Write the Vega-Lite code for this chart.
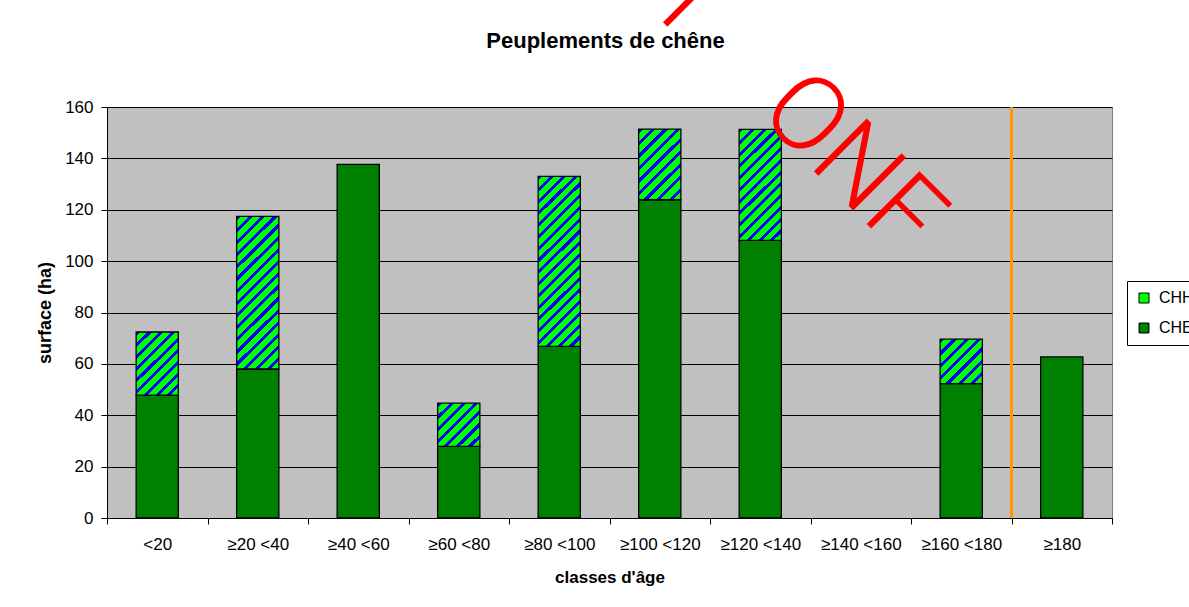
{
  "$schema": "https://vega.github.io/schema/vega-lite/v6.json",
  "width": 1005,
  "height": 411,
  "autosize": {"type": "none"},
  "padding": {"left": 107, "top": 107, "right": 77, "bottom": 89},
  "background": "white",
  "title": {"text": "Peuplements de chêne", "font": "Liberation Sans", "fontSize": 22, "fontWeight": "bold", "color": "black", "anchor": "middle", "frame": "group", "baseline": "alphabetic", "offset": -481, "dx": -4},
  "config": {
    "font": "Liberation Sans",
    "view": {"fill": "#C0C0C0", "stroke": "#808080", "strokeWidth": 1},
    "axis": {"domainColor": "black", "tickColor": "black", "labelColor": "black", "titleColor": "black", "labelFont": "Liberation Sans", "titleFont": "Liberation Sans", "domainWidth": 1, "tickWidth": 1}
  },
  "layer": [
    {
      "data": {"values": [
        {"classe": "<20", "type": "CHE", "surface": 47.8},
        {"classe": "<20", "type": "CHH", "surface": 24.6},
        {"classe": "≥20 <40", "type": "CHE", "surface": 58.0},
        {"classe": "≥20 <40", "type": "CHH", "surface": 59.4},
        {"classe": "≥40 <60", "type": "CHE", "surface": 137.7},
        {"classe": "≥60 <80", "type": "CHE", "surface": 27.9},
        {"classe": "≥60 <80", "type": "CHH", "surface": 16.8},
        {"classe": "≥80 <100", "type": "CHE", "surface": 66.8},
        {"classe": "≥80 <100", "type": "CHH", "surface": 66.2},
        {"classe": "≥100 <120", "type": "CHE", "surface": 123.9},
        {"classe": "≥100 <120", "type": "CHH", "surface": 27.5},
        {"classe": "≥120 <140", "type": "CHE", "surface": 108.1},
        {"classe": "≥120 <140", "type": "CHH", "surface": 43.2},
        {"classe": "≥160 <180", "type": "CHE", "surface": 52.3},
        {"classe": "≥160 <180", "type": "CHH", "surface": 17.3},
        {"classe": "≥180", "type": "CHE", "surface": 62.7}
      ]},
      "mark": {"type": "bar", "width": {"band": 0.42}, "stroke": "black", "strokeWidth": 1.3},
      "encoding": {
        "x": {"field": "classe", "type": "nominal", "sort": null,
          "scale": {"domain": ["<20", "≥20 <40", "≥40 <60", "≥60 <80", "≥80 <100", "≥100 <120", "≥120 <140", "≥140 <160", "≥160 <180", "≥180"], "paddingInner": 0, "paddingOuter": 0},
          "axis": {"title": "classes d'âge", "titleFontSize": 17, "titleFontWeight": "bold", "titlePadding": 17, "labelFontSize": 17, "labelAngle": 0, "labelPadding": 12, "tickSize": 6, "tickBand": "extent", "labelOverlap": false, "grid": false}},
        "y": {"field": "surface", "type": "quantitative", "stack": "zero",
          "scale": {"domain": [0, 160], "nice": false},
          "axis": {"title": "surface (ha)", "titleFontSize": 18, "titleFontWeight": "bold", "titlePadding": 10, "values": [0, 20, 40, 60, 80, 100, 120, 140, 160], "labelFontSize": 17, "labelPadding": 8, "tickSize": 6, "grid": true, "gridColor": "black", "gridWidth": 1}},
        "order": {"field": "type", "sort": "ascending"},
        "fill": {"field": "type", "type": "nominal",
          "scale": {"domain": ["CHH", "CHE"], "range": ["#00FF00", "#008000"]},
          "legend": {"title": null, "orient": "none", "legendX": 1020, "legendY": 174, "direction": "vertical", "symbolType": "square", "symbolSize": 100, "symbolStrokeColor": "black", "symbolStrokeWidth": 1, "labelFont": "Liberation Sans", "labelFontSize": 16, "labelColor": "black", "labelOffset": 7, "strokeColor": "black", "fillColor": "white", "padding": 9, "rowPadding": 14},
          "condition": [
            {"test": "datum.type === 'CHH' && datum.classe === '<20'", "value": {"gradient": "linear", "x1": 0, "y1": 0, "x2": 0.766, "y2": 1.155, "stops": [
              {"offset": 0, "color": "#00f"}, {"offset": 0.0389, "color": "#00f"}, {"offset": 0.0389, "color": "#0f0"}, {"offset": 0.1111, "color": "#0f0"},
              {"offset": 0.1111, "color": "#00f"}, {"offset": 0.15, "color": "#00f"}, {"offset": 0.15, "color": "#0f0"}, {"offset": 0.2222, "color": "#0f0"},
              {"offset": 0.2222, "color": "#00f"}, {"offset": 0.2611, "color": "#00f"}, {"offset": 0.2611, "color": "#0f0"}, {"offset": 0.3333, "color": "#0f0"},
              {"offset": 0.3333, "color": "#00f"}, {"offset": 0.3722, "color": "#00f"}, {"offset": 0.3722, "color": "#0f0"}, {"offset": 0.4444, "color": "#0f0"},
              {"offset": 0.4444, "color": "#00f"}, {"offset": 0.4833, "color": "#00f"}, {"offset": 0.4833, "color": "#0f0"}, {"offset": 0.5556, "color": "#0f0"},
              {"offset": 0.5556, "color": "#00f"}, {"offset": 0.5944, "color": "#00f"}, {"offset": 0.5944, "color": "#0f0"}, {"offset": 0.6667, "color": "#0f0"},
              {"offset": 0.6667, "color": "#00f"}, {"offset": 0.7056, "color": "#00f"}, {"offset": 0.7056, "color": "#0f0"}, {"offset": 0.7778, "color": "#0f0"},
              {"offset": 0.7778, "color": "#00f"}, {"offset": 0.8167, "color": "#00f"}, {"offset": 0.8167, "color": "#0f0"}, {"offset": 0.8889, "color": "#0f0"},
              {"offset": 0.8889, "color": "#00f"}, {"offset": 0.9278, "color": "#00f"}, {"offset": 0.9278, "color": "#0f0"}, {"offset": 1, "color": "#0f0"}]}},
            {"test": "datum.type === 'CHH' && datum.classe === '≥20 <40'", "value": {"gradient": "linear", "x1": 0, "y1": 0, "x2": 0.3254, "y2": 1.1852, "stops": [
              {"offset": 0, "color": "#00f"}, {"offset": 0.0219, "color": "#00f"}, {"offset": 0.0219, "color": "#0f0"}, {"offset": 0.0625, "color": "#0f0"},
              {"offset": 0.0625, "color": "#00f"}, {"offset": 0.0844, "color": "#00f"}, {"offset": 0.0844, "color": "#0f0"}, {"offset": 0.125, "color": "#0f0"},
              {"offset": 0.125, "color": "#00f"}, {"offset": 0.1469, "color": "#00f"}, {"offset": 0.1469, "color": "#0f0"}, {"offset": 0.1875, "color": "#0f0"},
              {"offset": 0.1875, "color": "#00f"}, {"offset": 0.2094, "color": "#00f"}, {"offset": 0.2094, "color": "#0f0"}, {"offset": 0.25, "color": "#0f0"},
              {"offset": 0.25, "color": "#00f"}, {"offset": 0.2719, "color": "#00f"}, {"offset": 0.2719, "color": "#0f0"}, {"offset": 0.3125, "color": "#0f0"},
              {"offset": 0.3125, "color": "#00f"}, {"offset": 0.3344, "color": "#00f"}, {"offset": 0.3344, "color": "#0f0"}, {"offset": 0.375, "color": "#0f0"},
              {"offset": 0.375, "color": "#00f"}, {"offset": 0.3969, "color": "#00f"}, {"offset": 0.3969, "color": "#0f0"}, {"offset": 0.4375, "color": "#0f0"},
              {"offset": 0.4375, "color": "#00f"}, {"offset": 0.4594, "color": "#00f"}, {"offset": 0.4594, "color": "#0f0"}, {"offset": 0.5, "color": "#0f0"},
              {"offset": 0.5, "color": "#00f"}, {"offset": 0.5219, "color": "#00f"}, {"offset": 0.5219, "color": "#0f0"}, {"offset": 0.5625, "color": "#0f0"},
              {"offset": 0.5625, "color": "#00f"}, {"offset": 0.5844, "color": "#00f"}, {"offset": 0.5844, "color": "#0f0"}, {"offset": 0.625, "color": "#0f0"},
              {"offset": 0.625, "color": "#00f"}, {"offset": 0.6469, "color": "#00f"}, {"offset": 0.6469, "color": "#0f0"}, {"offset": 0.6875, "color": "#0f0"},
              {"offset": 0.6875, "color": "#00f"}, {"offset": 0.7094, "color": "#00f"}, {"offset": 0.7094, "color": "#0f0"}, {"offset": 0.75, "color": "#0f0"},
              {"offset": 0.75, "color": "#00f"}, {"offset": 0.7719, "color": "#00f"}, {"offset": 0.7719, "color": "#0f0"}, {"offset": 0.8125, "color": "#0f0"},
              {"offset": 0.8125, "color": "#00f"}, {"offset": 0.8344, "color": "#00f"}, {"offset": 0.8344, "color": "#0f0"}, {"offset": 0.875, "color": "#0f0"},
              {"offset": 0.875, "color": "#00f"}, {"offset": 0.8969, "color": "#00f"}, {"offset": 0.8969, "color": "#0f0"}, {"offset": 0.9375, "color": "#0f0"},
              {"offset": 0.9375, "color": "#00f"}, {"offset": 0.9594, "color": "#00f"}, {"offset": 0.9594, "color": "#0f0"}, {"offset": 1, "color": "#0f0"}]}},
            {"test": "datum.type === 'CHH' && datum.classe === '≥60 <80'", "value": {"gradient": "linear", "x1": 0, "y1": 0, "x2": 0.9845, "y2": 1.015, "stops": [
              {"offset": 0, "color": "#00f"}, {"offset": 0.05, "color": "#00f"}, {"offset": 0.05, "color": "#0f0"}, {"offset": 0.1429, "color": "#0f0"},
              {"offset": 0.1429, "color": "#00f"}, {"offset": 0.1929, "color": "#00f"}, {"offset": 0.1929, "color": "#0f0"}, {"offset": 0.2857, "color": "#0f0"},
              {"offset": 0.2857, "color": "#00f"}, {"offset": 0.3357, "color": "#00f"}, {"offset": 0.3357, "color": "#0f0"}, {"offset": 0.4286, "color": "#0f0"},
              {"offset": 0.4286, "color": "#00f"}, {"offset": 0.4786, "color": "#00f"}, {"offset": 0.4786, "color": "#0f0"}, {"offset": 0.5714, "color": "#0f0"},
              {"offset": 0.5714, "color": "#00f"}, {"offset": 0.6214, "color": "#00f"}, {"offset": 0.6214, "color": "#0f0"}, {"offset": 0.7143, "color": "#0f0"},
              {"offset": 0.7143, "color": "#00f"}, {"offset": 0.7643, "color": "#00f"}, {"offset": 0.7643, "color": "#0f0"}, {"offset": 0.8571, "color": "#0f0"},
              {"offset": 0.8571, "color": "#00f"}, {"offset": 0.9071, "color": "#00f"}, {"offset": 0.9071, "color": "#0f0"}, {"offset": 1, "color": "#0f0"}]}},
            {"test": "datum.type === 'CHH' && datum.classe === '≥80 <100'", "value": {"gradient": "linear", "x1": 0, "y1": 0, "x2": 0.2895, "y2": 1.175, "stops": [
              {"offset": 0, "color": "#00f"}, {"offset": 0.0194, "color": "#00f"}, {"offset": 0.0194, "color": "#0f0"}, {"offset": 0.0556, "color": "#0f0"},
              {"offset": 0.0556, "color": "#00f"}, {"offset": 0.075, "color": "#00f"}, {"offset": 0.075, "color": "#0f0"}, {"offset": 0.1111, "color": "#0f0"},
              {"offset": 0.1111, "color": "#00f"}, {"offset": 0.1306, "color": "#00f"}, {"offset": 0.1306, "color": "#0f0"}, {"offset": 0.1667, "color": "#0f0"},
              {"offset": 0.1667, "color": "#00f"}, {"offset": 0.1861, "color": "#00f"}, {"offset": 0.1861, "color": "#0f0"}, {"offset": 0.2222, "color": "#0f0"},
              {"offset": 0.2222, "color": "#00f"}, {"offset": 0.2417, "color": "#00f"}, {"offset": 0.2417, "color": "#0f0"}, {"offset": 0.2778, "color": "#0f0"},
              {"offset": 0.2778, "color": "#00f"}, {"offset": 0.2972, "color": "#00f"}, {"offset": 0.2972, "color": "#0f0"}, {"offset": 0.3333, "color": "#0f0"},
              {"offset": 0.3333, "color": "#00f"}, {"offset": 0.3528, "color": "#00f"}, {"offset": 0.3528, "color": "#0f0"}, {"offset": 0.3889, "color": "#0f0"},
              {"offset": 0.3889, "color": "#00f"}, {"offset": 0.4083, "color": "#00f"}, {"offset": 0.4083, "color": "#0f0"}, {"offset": 0.4444, "color": "#0f0"},
              {"offset": 0.4444, "color": "#00f"}, {"offset": 0.4639, "color": "#00f"}, {"offset": 0.4639, "color": "#0f0"}, {"offset": 0.5, "color": "#0f0"},
              {"offset": 0.5, "color": "#00f"}, {"offset": 0.5194, "color": "#00f"}, {"offset": 0.5194, "color": "#0f0"}, {"offset": 0.5556, "color": "#0f0"},
              {"offset": 0.5556, "color": "#00f"}, {"offset": 0.575, "color": "#00f"}, {"offset": 0.575, "color": "#0f0"}, {"offset": 0.6111, "color": "#0f0"},
              {"offset": 0.6111, "color": "#00f"}, {"offset": 0.6306, "color": "#00f"}, {"offset": 0.6306, "color": "#0f0"}, {"offset": 0.6667, "color": "#0f0"},
              {"offset": 0.6667, "color": "#00f"}, {"offset": 0.6861, "color": "#00f"}, {"offset": 0.6861, "color": "#0f0"}, {"offset": 0.7222, "color": "#0f0"},
              {"offset": 0.7222, "color": "#00f"}, {"offset": 0.7417, "color": "#00f"}, {"offset": 0.7417, "color": "#0f0"}, {"offset": 0.7778, "color": "#0f0"},
              {"offset": 0.7778, "color": "#00f"}, {"offset": 0.7972, "color": "#00f"}, {"offset": 0.7972, "color": "#0f0"}, {"offset": 0.8333, "color": "#0f0"},
              {"offset": 0.8333, "color": "#00f"}, {"offset": 0.8528, "color": "#00f"}, {"offset": 0.8528, "color": "#0f0"}, {"offset": 0.8889, "color": "#0f0"},
              {"offset": 0.8889, "color": "#00f"}, {"offset": 0.9083, "color": "#00f"}, {"offset": 0.9083, "color": "#0f0"}, {"offset": 0.9444, "color": "#0f0"},
              {"offset": 0.9444, "color": "#00f"}, {"offset": 0.9639, "color": "#00f"}, {"offset": 0.9639, "color": "#0f0"}, {"offset": 1, "color": "#0f0"}]}},
            {"test": "datum.type === 'CHH' && datum.classe === '≥100 <120'", "value": {"gradient": "linear", "x1": 0, "y1": 0, "x2": 0.6991, "y2": 1.1785, "stops": [
              {"offset": 0, "color": "#00f"}, {"offset": 0.0389, "color": "#00f"}, {"offset": 0.0389, "color": "#0f0"}, {"offset": 0.1111, "color": "#0f0"},
              {"offset": 0.1111, "color": "#00f"}, {"offset": 0.15, "color": "#00f"}, {"offset": 0.15, "color": "#0f0"}, {"offset": 0.2222, "color": "#0f0"},
              {"offset": 0.2222, "color": "#00f"}, {"offset": 0.2611, "color": "#00f"}, {"offset": 0.2611, "color": "#0f0"}, {"offset": 0.3333, "color": "#0f0"},
              {"offset": 0.3333, "color": "#00f"}, {"offset": 0.3722, "color": "#00f"}, {"offset": 0.3722, "color": "#0f0"}, {"offset": 0.4444, "color": "#0f0"},
              {"offset": 0.4444, "color": "#00f"}, {"offset": 0.4833, "color": "#00f"}, {"offset": 0.4833, "color": "#0f0"}, {"offset": 0.5556, "color": "#0f0"},
              {"offset": 0.5556, "color": "#00f"}, {"offset": 0.5944, "color": "#00f"}, {"offset": 0.5944, "color": "#0f0"}, {"offset": 0.6667, "color": "#0f0"},
              {"offset": 0.6667, "color": "#00f"}, {"offset": 0.7056, "color": "#00f"}, {"offset": 0.7056, "color": "#0f0"}, {"offset": 0.7778, "color": "#0f0"},
              {"offset": 0.7778, "color": "#00f"}, {"offset": 0.8167, "color": "#00f"}, {"offset": 0.8167, "color": "#0f0"}, {"offset": 0.8889, "color": "#0f0"},
              {"offset": 0.8889, "color": "#00f"}, {"offset": 0.9278, "color": "#00f"}, {"offset": 0.9278, "color": "#0f0"}, {"offset": 1, "color": "#0f0"}]}},
            {"test": "datum.type === 'CHH' && datum.classe === '≥120 <140'", "value": {"gradient": "linear", "x1": 0, "y1": 0, "x2": 0.4554, "y2": 1.2057, "stops": [
              {"offset": 0, "color": "#00f"}, {"offset": 0.0269, "color": "#00f"}, {"offset": 0.0269, "color": "#0f0"}, {"offset": 0.0769, "color": "#0f0"},
              {"offset": 0.0769, "color": "#00f"}, {"offset": 0.1038, "color": "#00f"}, {"offset": 0.1038, "color": "#0f0"}, {"offset": 0.1538, "color": "#0f0"},
              {"offset": 0.1538, "color": "#00f"}, {"offset": 0.1808, "color": "#00f"}, {"offset": 0.1808, "color": "#0f0"}, {"offset": 0.2308, "color": "#0f0"},
              {"offset": 0.2308, "color": "#00f"}, {"offset": 0.2577, "color": "#00f"}, {"offset": 0.2577, "color": "#0f0"}, {"offset": 0.3077, "color": "#0f0"},
              {"offset": 0.3077, "color": "#00f"}, {"offset": 0.3346, "color": "#00f"}, {"offset": 0.3346, "color": "#0f0"}, {"offset": 0.3846, "color": "#0f0"},
              {"offset": 0.3846, "color": "#00f"}, {"offset": 0.4115, "color": "#00f"}, {"offset": 0.4115, "color": "#0f0"}, {"offset": 0.4615, "color": "#0f0"},
              {"offset": 0.4615, "color": "#00f"}, {"offset": 0.4885, "color": "#00f"}, {"offset": 0.4885, "color": "#0f0"}, {"offset": 0.5385, "color": "#0f0"},
              {"offset": 0.5385, "color": "#00f"}, {"offset": 0.5654, "color": "#00f"}, {"offset": 0.5654, "color": "#0f0"}, {"offset": 0.6154, "color": "#0f0"},
              {"offset": 0.6154, "color": "#00f"}, {"offset": 0.6423, "color": "#00f"}, {"offset": 0.6423, "color": "#0f0"}, {"offset": 0.6923, "color": "#0f0"},
              {"offset": 0.6923, "color": "#00f"}, {"offset": 0.7192, "color": "#00f"}, {"offset": 0.7192, "color": "#0f0"}, {"offset": 0.7692, "color": "#0f0"},
              {"offset": 0.7692, "color": "#00f"}, {"offset": 0.7962, "color": "#00f"}, {"offset": 0.7962, "color": "#0f0"}, {"offset": 0.8462, "color": "#0f0"},
              {"offset": 0.8462, "color": "#00f"}, {"offset": 0.8731, "color": "#00f"}, {"offset": 0.8731, "color": "#0f0"}, {"offset": 0.9231, "color": "#0f0"},
              {"offset": 0.9231, "color": "#00f"}, {"offset": 0.95, "color": "#00f"}, {"offset": 0.95, "color": "#0f0"}, {"offset": 1, "color": "#0f0"}]}},
            {"test": "datum.type === 'CHH' && datum.classe === '≥160 <180'", "value": {"gradient": "linear", "x1": 0, "y1": 0, "x2": 0.9704, "y2": 1.028, "stops": [
              {"offset": 0, "color": "#00f"}, {"offset": 0.05, "color": "#00f"}, {"offset": 0.05, "color": "#0f0"}, {"offset": 0.1429, "color": "#0f0"},
              {"offset": 0.1429, "color": "#00f"}, {"offset": 0.1929, "color": "#00f"}, {"offset": 0.1929, "color": "#0f0"}, {"offset": 0.2857, "color": "#0f0"},
              {"offset": 0.2857, "color": "#00f"}, {"offset": 0.3357, "color": "#00f"}, {"offset": 0.3357, "color": "#0f0"}, {"offset": 0.4286, "color": "#0f0"},
              {"offset": 0.4286, "color": "#00f"}, {"offset": 0.4786, "color": "#00f"}, {"offset": 0.4786, "color": "#0f0"}, {"offset": 0.5714, "color": "#0f0"},
              {"offset": 0.5714, "color": "#00f"}, {"offset": 0.6214, "color": "#00f"}, {"offset": 0.6214, "color": "#0f0"}, {"offset": 0.7143, "color": "#0f0"},
              {"offset": 0.7143, "color": "#00f"}, {"offset": 0.7643, "color": "#00f"}, {"offset": 0.7643, "color": "#0f0"}, {"offset": 0.8571, "color": "#0f0"},
              {"offset": 0.8571, "color": "#00f"}, {"offset": 0.9071, "color": "#00f"}, {"offset": 0.9071, "color": "#0f0"}, {"offset": 1, "color": "#0f0"}]}}
          ]
        }
      }
    },
    {
      "data": {"values": [{}]},
      "mark": {"type": "rule", "color": "#FF9900", "strokeWidth": 3},
      "encoding": {"x": {"datum": "≥180", "type": "nominal", "bandPosition": 0}}
    },
    {
      "data": {"values": [{}]},
      "mark": {"type": "text", "text": "ONF", "font": "Roboto", "fontWeight": 300, "fontSize": 105, "color": "#FF0000", "angle": 45, "align": "center", "baseline": "middle"},
      "encoding": {
        "x": {"datum": "≥140 <160", "type": "nominal", "bandPosition": 0.413},
        "y": {"datum": 137.8, "type": "quantitative"}
      }
    },
    {
      "data": {"values": [{}]},
      "mark": {"type": "text", "text": "DOCUMENT", "font": "Roboto", "fontWeight": 300, "fontSize": 105, "color": "#FF0000", "angle": 45, "align": "right", "baseline": "middle"},
      "encoding": {
        "x": {"datum": "≥120 <140", "type": "nominal", "bandPosition": 0},
        "y": {"datum": 192.3, "type": "quantitative"}
      }
    }
  ]
}
